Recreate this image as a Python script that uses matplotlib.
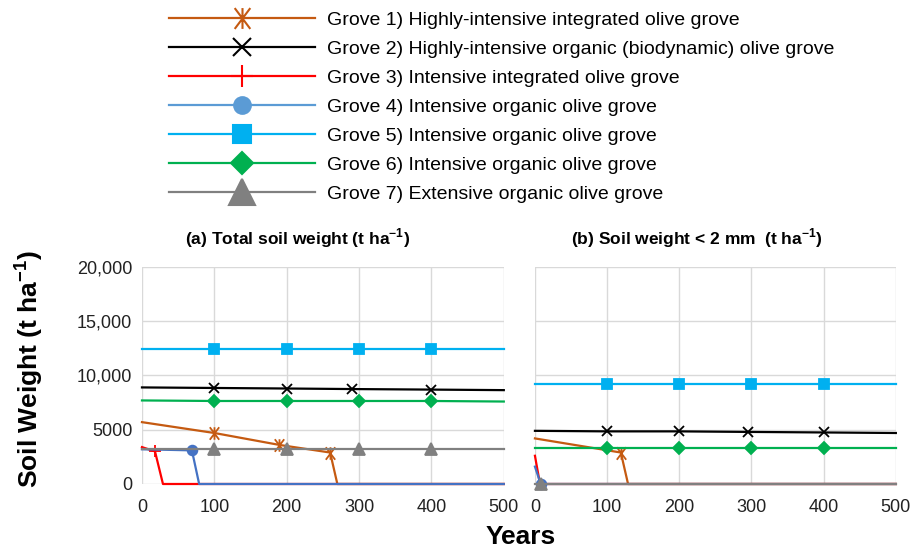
import matplotlib
matplotlib.use("Agg")
import matplotlib.pyplot as plt
from matplotlib.lines import Line2D
from matplotlib.path import Path

plt.rcParams['font.family'] = ['Liberation Sans', 'DejaVu Sans']
plt.rcParams['mathtext.fontset'] = 'custom'
plt.rcParams['mathtext.rm'] = 'Liberation Sans'
plt.rcParams['mathtext.bf'] = 'Liberation Sans:bold'

# ---- data ----
labels = [
    "Grove 1) Highly-intensive integrated olive grove",
    "Grove 2) Highly-intensive organic (biodynamic) olive grove",
    "Grove 3) Intensive integrated olive grove",
    "Grove 4) Intensive organic olive grove",
    "Grove 5) Intensive organic olive grove",
    "Grove 6) Intensive organic olive grove",
    "Grove 7) Extensive organic olive grove",
]

# panel (a) total soil weight
a_g1_x = [0, 100, 190, 260, 270, 500]
a_g1_y = [5700, 4700, 3600, 2900, 0, 0]
a_g2_x = [0, 100, 200, 290, 400, 500]
a_g2_y = [8900, 8850, 8800, 8750, 8700, 8650]
a_g3_x = [0, 18, 29, 500]
a_g3_y = [3400, 3000, 0, 0]
a_g4_x = [0, 69, 79, 500]
a_g4_y = [3200, 3100, 0, 0]
a_g5_x = [0, 100, 200, 300, 400, 500]
a_g5_y = [12400, 12400, 12400, 12400, 12400, 12400]
a_g6_x = [0, 100, 200, 300, 400, 500]
a_g6_y = [7700, 7650, 7650, 7650, 7650, 7600]
a_g7_x = [0, 100, 200, 300, 400, 500]
a_g7_y = [3200, 3200, 3200, 3200, 3200, 3200]

# panel (b) soil weight < 2 mm
b_g1_x = [0, 119, 129, 500]
b_g1_y = [4200, 2900, 0, 0]
b_g2_x = [0, 100, 200, 295, 400, 500]
b_g2_y = [4900, 4850, 4850, 4800, 4750, 4700]
b_g3_x = [0, 7, 500]
b_g3_y = [2600, 0, 0]
b_g4_x = [0, 8, 500]
b_g4_y = [1600, 0, 0]
b_g5_x = [0, 100, 200, 300, 400, 500]
b_g5_y = [9200, 9200, 9200, 9200, 9200, 9200]
b_g6_x = [0, 100, 200, 300, 400, 500]
b_g6_y = [3300, 3300, 3300, 3300, 3300, 3300]
b_g7_x = [0, 8, 500]
b_g7_y = [0, 0, 0]

x_ticks = [0, 100, 200, 300, 400, 500]
y_ticks = [0, 5000, 10000, 15000, 20000]
y_ticklabels = ["0", "5000", "10,000", "15,000", "20,000"]

# ---- styles ----
asterisk = Path([(0, -1), (0, 1), (-0.75, -1), (0.75, 1), (-0.75, 1), (0.75, -1)],
                [Path.MOVETO, Path.LINETO] * 3)
colors = ["#C55A11", "#000000", "#FF0000", "#4472C4", "#00B0F0", "#00B050", "#808080"]
leg_colors = ["#C55A11", "#000000", "#FF0000", "#5B9BD5", "#00B0F0", "#00B050", "#808080"]
markers = [asterisk, "x", "+", "o", "s", "D", "^"]
msizes = [9, 7, 9, 7, 7, 6, 8]
leg_msizes = [15, 13, 16, 12, 13, 11, 19]

a_series = [(a_g1_x, a_g1_y, [1, 2, 3]), (a_g2_x, a_g2_y, [1, 2, 3, 4]),
            (a_g3_x, a_g3_y, [1]), (a_g4_x, a_g4_y, [1]),
            (a_g5_x, a_g5_y, [1, 2, 3, 4]), (a_g6_x, a_g6_y, [1, 2, 3, 4]),
            (a_g7_x, a_g7_y, [1, 2, 3, 4])]
b_series = [(b_g1_x, b_g1_y, [1]), (b_g2_x, b_g2_y, [1, 2, 3, 4]),
            (b_g3_x, b_g3_y, []), (b_g4_x, b_g4_y, [1]),
            (b_g5_x, b_g5_y, [1, 2, 3, 4]), (b_g6_x, b_g6_y, [1, 2, 3, 4]),
            (b_g7_x, b_g7_y, [1])]

fig = plt.figure(figsize=(9.16, 5.48), dpi=100)
ax_a = fig.add_axes([0.155, 0.1168, 0.395, 0.396])
ax_b = fig.add_axes([0.584, 0.1168, 0.394, 0.396])

for ax, series in [(ax_a, a_series), (ax_b, b_series)]:
    for i, (xs, ys, mk) in enumerate(series):
        ax.plot(xs, ys, color=colors[i], lw=1.6, marker=markers[i], markevery=mk,
                ms=msizes[i], mew=1.3, clip_on=False, zorder=3 + i)
    ax.set_xlim(0, 500)
    ax.set_ylim(0, 20000)
    ax.set_xticks(x_ticks)
    ax.set_yticks(y_ticks)
    ax.grid(True, color="#D9D9D9", lw=1)
    ax.set_axisbelow(True)
    for s in ax.spines.values():
        s.set_visible(False)
    ax.tick_params(length=0, labelsize=13, colors="#222222")
    ax.tick_params(axis="x", pad=11)
    ax.tick_params(axis="y", pad=7)

ax_a.set_yticklabels(y_ticklabels)
ax_b.set_yticklabels([])

ax_a.set_title(r"(a) Total soil weight (t ha$^{\mathbf{-1}}$)", fontsize=12.5,
               fontweight="bold", pad=16, x=0.43)
ax_b.set_title(r"(b) Soil weight < 2 mm  (t ha$^{\mathbf{-1}}$)", fontsize=12.5,
               fontweight="bold", pad=16, x=0.45)
ax_a.set_ylabel(r"Soil Weight (t ha$^{\mathbf{-1}}$)", fontsize=19, fontweight="bold")
ax_a.yaxis.set_label_coords(-0.268, 0.53)
fig.text(0.568, 0.008, "Years", fontsize=19, fontweight="bold", ha="center", va="baseline")

handles = [Line2D([], [], color=leg_colors[i], lw=1.6, marker=markers[i],
                  ms=leg_msizes[i], mew=1.5) for i in range(7)]
fig.legend(handles, labels, loc="upper left", bbox_to_anchor=(0.172, 1.0),
           frameon=False, fontsize=14, handlelength=7.5, handletextpad=0.6,
           labelspacing=0.58, borderaxespad=0.2)

fig.savefig("out.png", dpi=100)
